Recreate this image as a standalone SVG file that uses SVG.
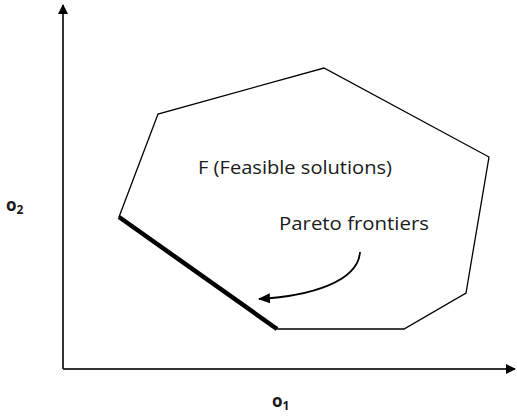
<svg xmlns="http://www.w3.org/2000/svg" width="517" height="417" viewBox="0 0 517 417">
<defs>
<style>
.t{font-family:"Open Sans","Liberation Sans",sans-serif;fill:#1a1a1a}
.ax{stroke:#333;stroke-width:2;fill:none}
</style>
<marker id="ah" markerWidth="10" markerHeight="10" refX="9" refY="5" orient="auto" markerUnits="userSpaceOnUse">
<path d="M0,0 L10,5 L0,10 Z" fill="#000"/>
</marker>
<marker id="ah2" markerWidth="12" markerHeight="10" refX="11" refY="5" orient="auto" markerUnits="userSpaceOnUse">
<path d="M0,0 L12,5 L0,10 Z" fill="#000"/>
</marker>
</defs>
<rect width="517" height="417" fill="#fff"/>
<g id="axes">
<line class="ax" x1="63" y1="369" x2="63" y2="5" marker-end="url(#ah)"/>
<line class="ax" x1="63" y1="369" x2="515" y2="369" marker-end="url(#ah)"/>
<text class="t" x="6" y="211" font-size="17" font-weight="bold">o<tspan font-size="12" dy="3">2</tspan></text>
<text class="t" x="272" y="407" font-size="17" font-weight="bold">o<tspan font-size="12" dy="3">1</tspan></text>
</g>
<g id="feasible">
<polygon points="119,217 158,114 324,68 489,157 466,293 404,329 277,329" fill="none" stroke="#000" stroke-width="1.3"/>
<text class="t" x="198" y="174" font-size="18.5" textLength="194" lengthAdjust="spacingAndGlyphs">F (Feasible solutions)</text>
</g>
<g id="pareto">
<line x1="119" y1="217" x2="277" y2="329" stroke="#000" stroke-width="4.5"/>
<text class="t" x="279" y="230" font-size="18.5" textLength="150" lengthAdjust="spacingAndGlyphs">Pareto frontiers</text>
</g>
<g id="connectors">
<path d="M360,252 C358,282 310,296 259,299" fill="none" stroke="#000" stroke-width="1.8" marker-end="url(#ah2)"/>
</g>
</svg>
